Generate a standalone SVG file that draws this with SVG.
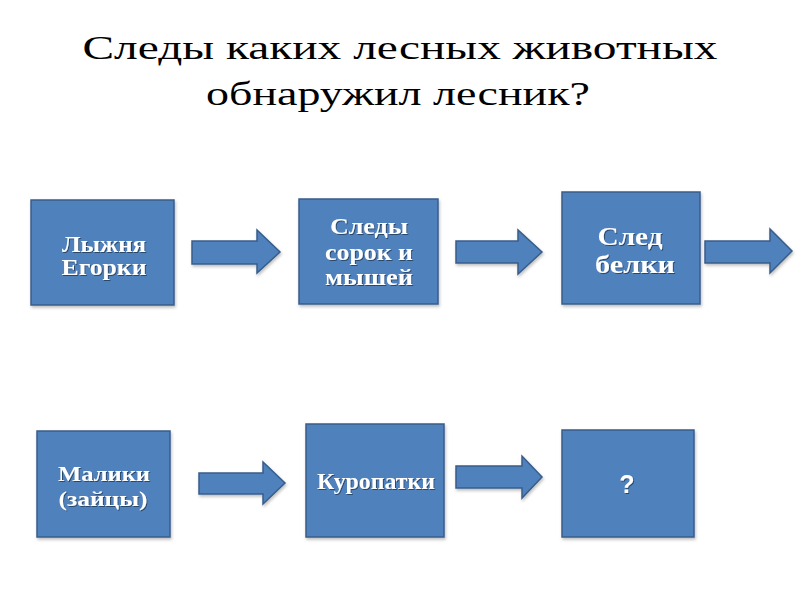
<svg xmlns="http://www.w3.org/2000/svg" width="800" height="600" viewBox="0 0 800 600">
  <style>
    .title { font-family: "Liberation Serif", "DejaVu Serif", serif; font-size: 34px; fill: #000; text-anchor: middle; }
    .box { fill: #4F81BD; stroke: #385D8A; stroke-width: 1.5; }
    .arrow { fill: #4F81BD; stroke: #385D8A; stroke-width: 1.5; stroke-linejoin: miter; }
    .lbl { font-family: "Liberation Serif", "DejaVu Serif", serif; font-weight: bold; font-size: 23px; fill: #FFFFFF; text-anchor: middle; filter: url(#ts); }
    .lbl-big { font-size: 26px; }
    .q { font-family: "Liberation Sans", "Noto Sans", sans-serif; font-weight: bold; font-size: 25px; fill: #FFFFFF; text-anchor: middle; filter: url(#ts); }
  </style>
  <defs>
    <filter id="ts" x="-10%" y="-20%" width="130%" height="150%">
      <feDropShadow dx="1" dy="1" stdDeviation="0.6" flood-color="#000" flood-opacity="0.45"/>
    </filter>
    <filter id="bs" x="-5%" y="-5%" width="115%" height="115%">
      <feDropShadow dx="1" dy="2" stdDeviation="1.5" flood-color="#000" flood-opacity="0.25"/>
    </filter>
  </defs>
  <rect width="800" height="600" fill="#FFFFFF"/>

  <g id="title">
    <text class="title" x="400" y="59" textLength="635" lengthAdjust="spacingAndGlyphs">Следы каких лесных животных</text>
    <text class="title" x="398" y="105" textLength="384" lengthAdjust="spacingAndGlyphs">обнаружил лесник?</text>
  </g>

  <g id="connectors">
    <polygon class="arrow" filter="url(#bs)" points="192,241 257,241 257,230 280,252 257,273 257,264 192,264"/>
    <polygon class="arrow" filter="url(#bs)" points="456,241 518,241 518,230 542,252 518,274 518,263 456,263"/>
    <polygon class="arrow" filter="url(#bs)" points="705,241 770,241 770,229 792,251 770,273 770,263 705,263"/>
    <polygon class="arrow" filter="url(#bs)" points="199,473 263,473 263,462 285,483 263,504 263,494 199,494"/>
    <polygon class="arrow" filter="url(#bs)" points="456,466 522,466 522,456 542,477 522,498 522,488 456,488"/>
  </g>

  <g id="node-lyzhnya">
    <rect class="box" filter="url(#bs)" x="31" y="200" width="143" height="105"/>
    <text class="lbl" x="104" y="252" textLength="84" lengthAdjust="spacingAndGlyphs">Лыжня</text>
    <text class="lbl" x="104" y="275" textLength="85" lengthAdjust="spacingAndGlyphs">Егорки</text>
  </g>

  <g id="node-sledy">
    <rect class="box" filter="url(#bs)" x="299" y="199" width="139" height="105"/>
    <text class="lbl" x="369" y="234" textLength="78" lengthAdjust="spacingAndGlyphs">Следы</text>
    <text class="lbl" x="369" y="260" textLength="88" lengthAdjust="spacingAndGlyphs">сорок и</text>
    <text class="lbl" x="369" y="285" textLength="88" lengthAdjust="spacingAndGlyphs">мышей</text>
  </g>

  <g id="node-belka">
    <rect class="box" filter="url(#bs)" x="562" y="192" width="138" height="112"/>
    <text class="lbl lbl-big" x="630" y="245" textLength="65" lengthAdjust="spacingAndGlyphs">След</text>
    <text class="lbl lbl-big" x="635" y="273" textLength="80" lengthAdjust="spacingAndGlyphs">белки</text>
  </g>

  <g id="node-maliki">
    <rect class="box" filter="url(#bs)" x="37" y="431" width="133" height="106"/>
    <text class="lbl" x="104" y="481" textLength="92" lengthAdjust="spacingAndGlyphs" style="font-size:22px">Малики</text>
    <text class="lbl" x="103" y="506" textLength="89" lengthAdjust="spacingAndGlyphs" style="font-size:22px">(зайцы)</text>
  </g>

  <g id="node-kuropatki">
    <rect class="box" filter="url(#bs)" x="306" y="424" width="138" height="113"/>
    <text class="lbl" x="376" y="489" textLength="118" lengthAdjust="spacingAndGlyphs">Куропатки</text>
  </g>

  <g id="node-question">
    <rect class="box" filter="url(#bs)" x="562" y="430" width="132" height="107"/>
    <text class="q" x="627" y="493">?</text>
  </g>
</svg>
